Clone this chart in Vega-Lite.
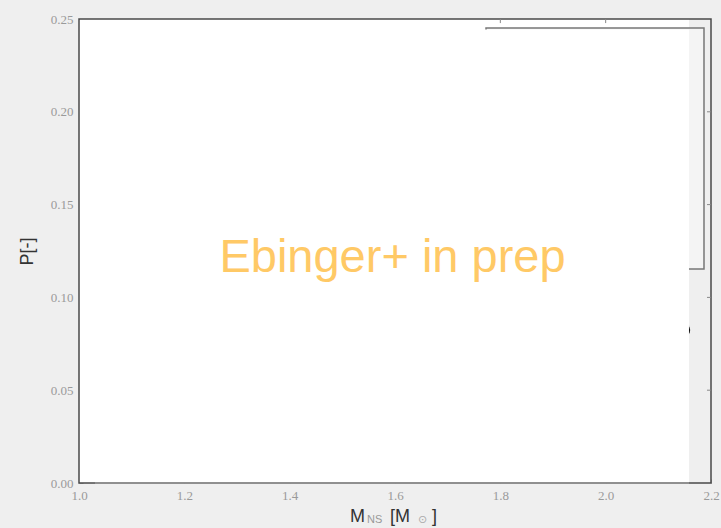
{
  "$schema": "https://vega.github.io/schema/vega-lite/v6.json",
  "width": 632,
  "height": 464,
  "autosize": {"type": "none"},
  "padding": {"left": 79, "top": 19, "right": 10, "bottom": 45},
  "background": "#efefef",
  "view": {"stroke": null, "fill": null},
  "datasets": {
    "plotArea": [{"x": 1.0, "x2": 2.1582, "y": 0.0, "y2": 0.25}],
    "legendBox": [{"x": 1.7728, "x2": 2.1867, "y": 0.1153, "y2": 0.2451}],
    "points": [{"mass": 2.1478, "prob": 0.0824}],
    "cover": [{"x": 1.0, "x2": 2.1582, "y": 0.0, "y2": 0.2443}],
    "frame": [{"x": 1.0, "x2": 2.2, "y": 0.0, "y2": 0.25}],
    "bottomEdge": [{"x": 1.0304, "x2": 2.1582, "y": 0.0}],
    "topTicks": [{"x": 1.8, "y": 0.25, "y2": 0.2478}, {"x": 2.0, "y": 0.25, "y2": 0.2478}],
    "rightTicks": [
      {"y": 0.05, "x": 2.2, "x2": 2.1924},
      {"y": 0.10, "x": 2.2, "x2": 2.1924},
      {"y": 0.15, "x": 2.2, "x2": 2.1924},
      {"y": 0.20, "x": 2.2, "x2": 2.1924}
    ],
    "watermark": [{"x": 1.5953, "y": 0.1137, "label": "Ebinger+ in prep"}],
    "xTitle": [
      {"x": 1.5146, "y": 0.0, "part": "M", "kind": "main"},
      {"x": 1.5468, "y": 0.0, "part": "NS", "kind": "sub"},
      {"x": 1.5905, "y": 0.0, "part": "[M", "kind": "main"},
      {"x": 1.6437, "y": 0.0, "part": "⊙", "kind": "sun"},
      {"x": 1.6702, "y": 0.0, "part": "]", "kind": "main"}
    ]
  },
  "layer": [
    {
      "data": {"name": "plotArea"},
      "mark": {"type": "rect", "fill": "#ffffff"},
      "encoding": {
        "x": {
          "field": "x", "type": "quantitative",
          "scale": {"domain": [1.0, 2.2], "nice": false, "zero": false},
          "axis": {
            "orient": "bottom",
            "values": [1.0, 1.2, 1.4, 1.6, 1.8, 2.0, 2.2],
            "format": ".1f",
            "title": null,
            "grid": false,
            "domain": false,
            "tickSize": -4,
            "tickColor": "#aaaaaa",
            "labelPadding": 10,
            "labelFont": "Liberation Serif",
            "labelFontSize": 13,
            "labelColor": "#9a9a9a",
            "labelOverlap": false,
            "labelFlush": false,
            "labelBound": false
          }
        },
        "x2": {"field": "x2"},
        "y": {
          "field": "y", "type": "quantitative",
          "scale": {"domain": [0, 0.25], "nice": false, "zero": false},
          "axis": {
            "orient": "left",
            "values": [0, 0.05, 0.1, 0.15, 0.2, 0.25],
            "format": ".2f",
            "title": "P[-]",
            "titleFont": "Liberation Sans",
            "titleFontSize": 18,
            "titleFontWeight": "normal",
            "titleColor": "#333333",
            "titlePadding": 14,
            "grid": false,
            "domain": false,
            "tickSize": -4,
            "tickColor": "#aaaaaa",
            "labelPadding": 10,
            "labelFont": "Liberation Serif",
            "labelFontSize": 13,
            "labelColor": "#9a9a9a",
            "labelOverlap": false,
            "labelBound": false
          }
        },
        "y2": {"field": "y2"}
      }
    },
    {
      "data": {"name": "legendBox"},
      "mark": {"type": "rect", "fill": "#f4f4f4", "stroke": "#777777", "strokeWidth": 1.5},
      "encoding": {
        "x": {"field": "x", "type": "quantitative"},
        "x2": {"field": "x2"},
        "y": {"field": "y", "type": "quantitative"},
        "y2": {"field": "y2"}
      }
    },
    {
      "data": {"name": "points"},
      "mark": {"type": "point", "shape": "circle", "filled": true, "color": "#111111", "size": 180, "opacity": 1},
      "encoding": {
        "x": {"field": "mass", "type": "quantitative"},
        "y": {"field": "prob", "type": "quantitative"}
      }
    },
    {
      "data": {"name": "cover"},
      "mark": {"type": "rect", "fill": "#ffffff"},
      "encoding": {
        "x": {"field": "x", "type": "quantitative"},
        "x2": {"field": "x2"},
        "y": {"field": "y", "type": "quantitative"},
        "y2": {"field": "y2"}
      }
    },
    {
      "data": {"name": "frame"},
      "mark": {"type": "rect", "fill": null, "fillOpacity": 0, "stroke": "#4a4a4a", "strokeWidth": 1.5},
      "encoding": {
        "x": {"field": "x", "type": "quantitative"},
        "x2": {"field": "x2"},
        "y": {"field": "y", "type": "quantitative"},
        "y2": {"field": "y2"}
      }
    },
    {
      "data": {"name": "bottomEdge"},
      "mark": {"type": "rule", "color": "#9a9a9a", "strokeWidth": 1.5},
      "encoding": {
        "x": {"field": "x", "type": "quantitative"},
        "x2": {"field": "x2"},
        "y": {"field": "y", "type": "quantitative"}
      }
    },
    {
      "data": {"name": "topTicks"},
      "mark": {"type": "rule", "color": "#888888", "strokeWidth": 1},
      "encoding": {
        "x": {"field": "x", "type": "quantitative"},
        "y": {"field": "y", "type": "quantitative"},
        "y2": {"field": "y2"}
      }
    },
    {
      "data": {"name": "rightTicks"},
      "mark": {"type": "rule", "color": "#888888", "strokeWidth": 1},
      "encoding": {
        "x": {"field": "x", "type": "quantitative"},
        "x2": {"field": "x2"},
        "y": {"field": "y", "type": "quantitative"}
      }
    },
    {
      "data": {"name": "watermark"},
      "mark": {"type": "text", "font": "Liberation Sans", "fontSize": 47, "color": "#ffc966", "align": "center", "baseline": "alphabetic"},
      "encoding": {
        "x": {"field": "x", "type": "quantitative"},
        "y": {"field": "y", "type": "quantitative"},
        "text": {"field": "label"}
      }
    },
    {
      "data": {"name": "xTitle"},
      "transform": [{"filter": "datum.kind === 'main'"}],
      "mark": {"type": "text", "font": "Liberation Sans", "fontSize": 18, "color": "#333333", "align": "left", "baseline": "alphabetic", "dy": 39},
      "encoding": {
        "x": {"field": "x", "type": "quantitative"},
        "y": {"field": "y", "type": "quantitative"},
        "text": {"field": "part"}
      }
    },
    {
      "data": {"name": "xTitle"},
      "transform": [{"filter": "datum.kind === 'sub'"}],
      "mark": {"type": "text", "font": "Liberation Sans", "fontSize": 11, "color": "#999999", "align": "left", "baseline": "alphabetic", "dy": 40},
      "encoding": {
        "x": {"field": "x", "type": "quantitative"},
        "y": {"field": "y", "type": "quantitative"},
        "text": {"field": "part"}
      }
    },
    {
      "data": {"name": "xTitle"},
      "transform": [{"filter": "datum.kind === 'sun'"}],
      "mark": {"type": "text", "font": "DejaVu Sans", "fontSize": 11, "color": "#aaaaaa", "align": "left", "baseline": "alphabetic", "dy": 40},
      "encoding": {
        "x": {"field": "x", "type": "quantitative"},
        "y": {"field": "y", "type": "quantitative"},
        "text": {"field": "part"}
      }
    }
  ]
}
